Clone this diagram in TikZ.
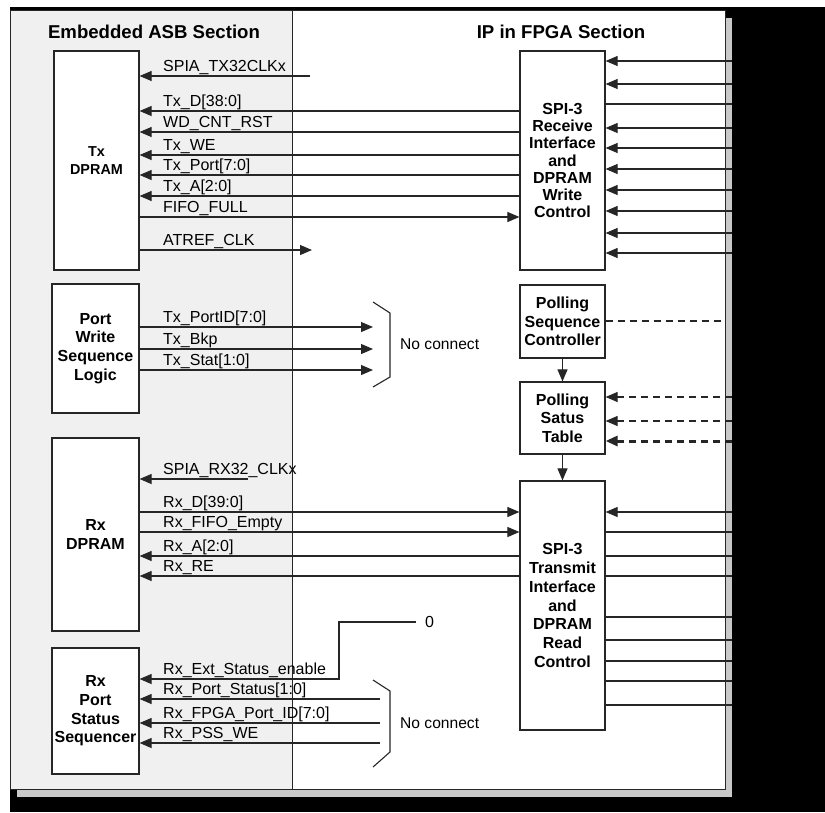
\documentclass[tikz,border=0pt]{standalone}
\usepackage{fontspec}
\setmainfont{Liberation Sans}
\usetikzlibrary{arrows.meta}
\begin{document}
\begin{tikzpicture}[x=1pt,y=-1pt,
  wire/.style={line width=1.1pt, draw=black!85},
  arr/.style={wire,-{Triangle[length=12pt,width=10pt]}},
  dsh/.style={wire, dash pattern=on 7pt off 5pt},
  box/.style={draw=black!85, line width=1.2pt, fill=white, minimum width=85pt, inner sep=0pt, align=center, font=\bfseries\fontsize{16}{18.7}\selectfont},
  lbl/.style={inner sep=0pt, font=\fontsize{16}{19}\selectfont, anchor=base west},
  sectitle/.style={font=\bfseries\fontsize{18.6}{21}\selectfont, inner sep=0pt},
]
\useasboundingbox (0,0) rectangle (825,812);
% frame with shadow
\fill[black] (10,7) rectangle (825,812);
\fill[black!21] (17,18) rectangle (732,797);
\fill[black!6] (10,10) rectangle (292,789);
\fill[white] (292,10) rectangle (725,789);
\draw[black!85, line width=1pt] (10,10) rectangle (725,789);
\draw[black!85, line width=1pt] (292,10) -- (292,789);

\node[sectitle] (t1) at (154,32) {Embedded ASB Section};
\node[sectitle] (t2) at (561,32) {IP in FPGA Section};

% boxes
\node[box, minimum width=85pt, minimum height=219pt, font=\bfseries\fontsize{14.4}{18.3}\selectfont] (txd) at (96.5,160.5) {Tx\\DPRAM};
\node[box, minimum width=87pt, minimum height=129pt] (pwsl) at (95.5,348.5) {Port\\Write\\Sequence\\Logic};
\node[box, minimum width=87pt, minimum height=193pt] (rxd) at (95.5,534.5) {Rx\\DPRAM};
\node[box, minimum width=87pt, minimum height=126pt] (rpss) at (95.5,711) {Rx\\Port\\Status\\Sequencer};
\node[box, minimum height=219pt, font=\bfseries\fontsize{16}{17.2}\selectfont] (spir) at (562.5,160.5) {SPI-3\\Receive\\Interface\\and\\DPRAM\\Write\\Control};
\node[box, minimum height=73pt] (psc) at (562.5,321.5) {Polling\\Sequence\\Controller};
\node[box, minimum height=72pt] (pst) at (562.5,418) {Polling\\Satus\\Table};
\node[box, minimum height=249pt] (spit) at (562.5,605.5) {SPI-3\\Transmit\\Interface\\and\\DPRAM\\Read\\Control};

\coordinate (R) at (732,0);
\coordinate (Rf) at (725,0);

% Tx DPRAM signals
\coordinate (stx) at (310,76);
\draw[arr] (stx) -- (txd.east |- stx);
\foreach \y in {111,132,155,175,196}
  \draw[arr] (spir.west |- 0,\y) -- (txd.east |- 0,\y);
\draw[arr] (txd.east |- 0,217) -- (spir.west |- 0,217);
\coordinate (atr) at (312,250);
\draw[arr] (txd.east |- atr) -- (atr);

\node[lbl] (l1) at (163,71.5) {SPIA\_TX32CLKx};
\node[lbl] (l2) at (163,106.5) {Tx\_D[38:0]};
\node[lbl] (l3) at (163,127.5) {WD\_CNT\_RST};
\node[lbl] (l4) at (163,150.5) {Tx\_WE};
\node[lbl] (l5) at (163,170.5) {Tx\_Port[7:0]};
\node[lbl] (l6) at (163,191.5) {Tx\_A[2:0]};
\node[lbl] (l7) at (163,212.5) {FIFO\_FULL};
\node[lbl] (l8) at (163,245.5) {ATREF\_CLK};

% SPI-3 receive right side
\foreach \y in {61,84,128,148,169,190,211,233,253}
  \draw[arr] (R |- 0,\y) -- (spir.east |- 0,\y);
\draw[wire] (spir.east |- 0,104) -- (R |- 0,104);

% polling
\draw[dsh] (psc.east |- 0,321) -- (Rf |- 0,321);
\draw[arr] (psc) -- (pst);
\draw[arr, dsh] (R |- 0,397) -- (pst.east |- 0,397);
\draw[arr, dsh] (R |- 0,421) -- (pst.east |- 0,421);
\draw[arr, dsh, line width=3pt, -{Triangle[length=12pt,width=10pt]}] (R |- 0,441) -- (pst.east |- 0,441);
\draw[arr] (pst) -- (spit);

% Port write sequence logic
\coordinate (nc1) at (373,0);
\foreach \y in {327,349,370}
  \draw[arr] (pwsl.east |- 0,\y) -- (nc1 |- 0,\y);
\draw[wire] (373,302) -- (390,313) -- (390,377) -- (373,387);
\node[inner sep=0pt, anchor=west, font=\fontsize{15.6}{18}\selectfont] (nc1t) at (400,344) {No connect};
\node[lbl] (l9) at (163,322.5) {Tx\_PortID[7:0]};
\node[lbl] (l10) at (163,344.5) {Tx\_Bkp};
\node[lbl] (l11) at (163,365.5) {Tx\_Stat[1:0]};

% Rx DPRAM
\coordinate (srx) at (248,479);
\draw[arr] (srx) -- (rxd.east |- srx);
\draw[arr] (rxd.east |- 0,512) -- (spit.west |- 0,512);
\draw[arr] (rxd.east |- 0,532) -- (spit.west |- 0,532);
\draw[arr] (spit.west |- 0,556) -- (rxd.east |- 0,556);
\draw[arr] (spit.west |- 0,576) -- (rxd.east |- 0,576);
\node[lbl] (l12) at (163,474.5) {SPIA\_RX32\_CLKx};
\node[lbl] (l13) at (163,507.5) {Rx\_D[39:0]};
\node[lbl] (l14) at (163,527.5) {Rx\_FIFO\_Empty};
\node[lbl] (l15) at (163,551.5) {Rx\_A[2:0]};
\node[lbl] (l16) at (163,571.5) {Rx\_RE};

% SPI-3 transmit right side
\draw[arr] (R |- 0,512) -- (spit.east |- 0,512);
\foreach \y in {532,556,576,617,640,661,681,705}
  \draw[wire] (spit.east |- 0,\y) -- (R |- 0,\y);

% Rx port status sequencer
\coordinate (z0) at (416,622);
\node[inner sep=0pt, anchor=base west, font=\fontsize{16}{19}\selectfont] (zero) at (425,627.5) {0};
\coordinate (bend) at (339,679);
\draw[arr] (z0) -| (bend) -- (rpss.east |- bend);
\coordinate (nc2) at (380,0);
\foreach \y in {699,723,743}
  \draw[arr] (nc2 |- 0,\y) -- (rpss.east |- 0,\y);
\draw[wire] (373,680) -- (390,691) -- (390,752) -- (373,767);
\node[inner sep=0pt, anchor=west, font=\fontsize{15.6}{18}\selectfont] (nc2t) at (400,723) {No connect};
\node[lbl] (l17) at (163,674.5) {Rx\_Ext\_Status\_enable};
\node[lbl] (l18) at (163,694.5) {Rx\_Port\_Status[1:0]};
\node[lbl] (l19) at (163,718.5) {Rx\_FPGA\_Port\_ID[7:0]};
\node[lbl] (l20) at (163,738.5) {Rx\_PSS\_WE};
\end{tikzpicture}
\end{document}
